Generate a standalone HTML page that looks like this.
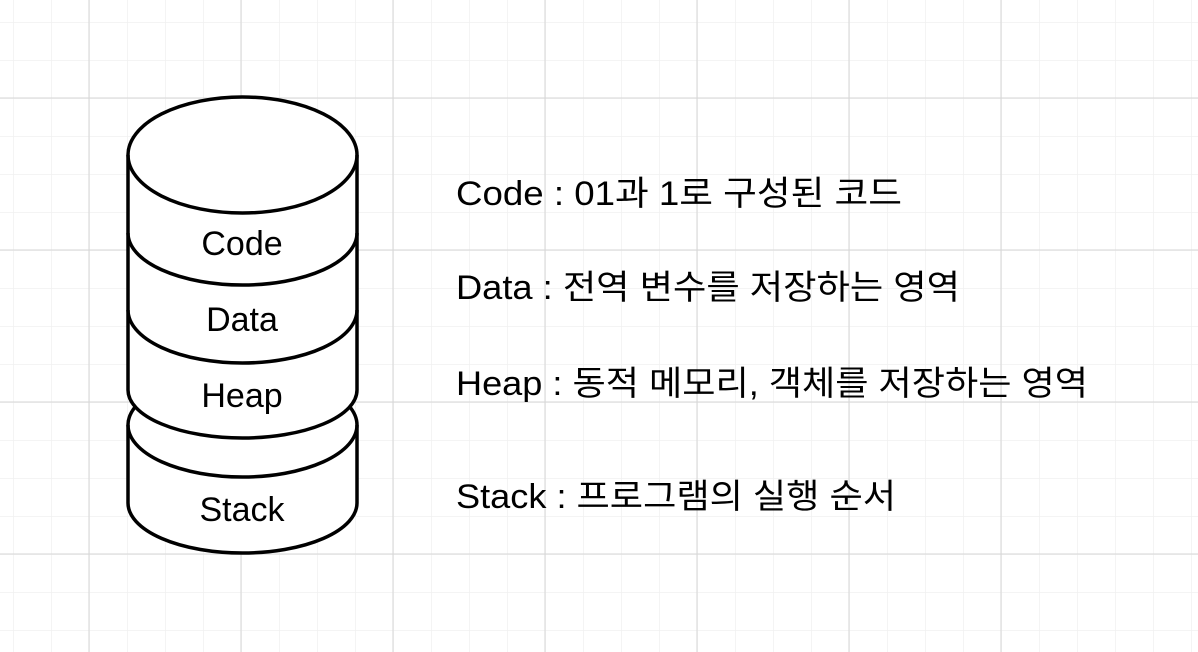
<!DOCTYPE html>
<html><head><meta charset="utf-8"><style>
html,body{margin:0;padding:0;background:#fff;}
svg{display:block;}
text{font-family:"Liberation Sans","Noto Sans CJK KR",sans-serif;fill:#000;}
</style></head><body>
<svg width="1198" height="652" viewBox="0 0 1198 652" xmlns="http://www.w3.org/2000/svg">
<defs>
<pattern id="minor" x="13" y="22" width="38" height="38" patternUnits="userSpaceOnUse">
<path d="M0 0H38M0 0V38" stroke="#f0f0f0" stroke-width="1.5" fill="none"/>
</pattern>
</defs>
<rect width="1198" height="652" fill="url(#minor)"/>
<g stroke="#d6d6d6" stroke-width="1">
<line x1="89" y1="0" x2="89" y2="652"/><line x1="241" y1="0" x2="241" y2="652"/><line x1="393" y1="0" x2="393" y2="652"/><line x1="545" y1="0" x2="545" y2="652"/><line x1="697" y1="0" x2="697" y2="652"/><line x1="849" y1="0" x2="849" y2="652"/><line x1="1001" y1="0" x2="1001" y2="652"/>
<line x1="0" y1="98" x2="1198" y2="98"/><line x1="0" y1="250" x2="1198" y2="250"/><line x1="0" y1="402" x2="1198" y2="402"/><line x1="0" y1="554" x2="1198" y2="554"/>
</g>
<g stroke="#000" stroke-width="3.5" fill="#fff">
<!-- stack cylinder -->
<path d="M128 425 A114.5 52 0 0 1 357 425 V503 A114.5 50 0 0 1 128 503 Z"/>
<path d="M128 425 A114.5 52 0 0 0 357 425" fill="none"/>
<!-- main cylinder -->
<path d="M128 155 A114.5 58 0 0 1 357 155 V390 A114.5 48 0 0 1 128 390 Z"/>
<path d="M128 155 A114.5 58 0 0 0 357 155" fill="none"/>
<path d="M128 233 A114.5 52 0 0 0 357 233" fill="none"/>
<path d="M128 310 A114.5 53 0 0 0 357 310" fill="none"/>
</g>
<g font-size="34" text-anchor="middle">
<text x="242" y="255">Code</text>
<text x="242" y="331">Data</text>
<text x="242" y="407">Heap</text>
<text x="242" y="521">Stack</text>
</g>
<g font-size="34">
<text x="456" y="205" textLength="446" lengthAdjust="spacingAndGlyphs">Code : 01과 1로 구성된 코드</text>
<text x="456" y="299" textLength="504" lengthAdjust="spacingAndGlyphs">Data : 전역 변수를 저장하는 영역</text>
<text x="456" y="395" textLength="632" lengthAdjust="spacingAndGlyphs">Heap : 동적 메모리, 객체를 저장하는 영역</text>
<text x="456" y="508" textLength="440" lengthAdjust="spacingAndGlyphs">Stack : 프로그램의 실행 순서</text>
</g>
</svg>
</body></html>
